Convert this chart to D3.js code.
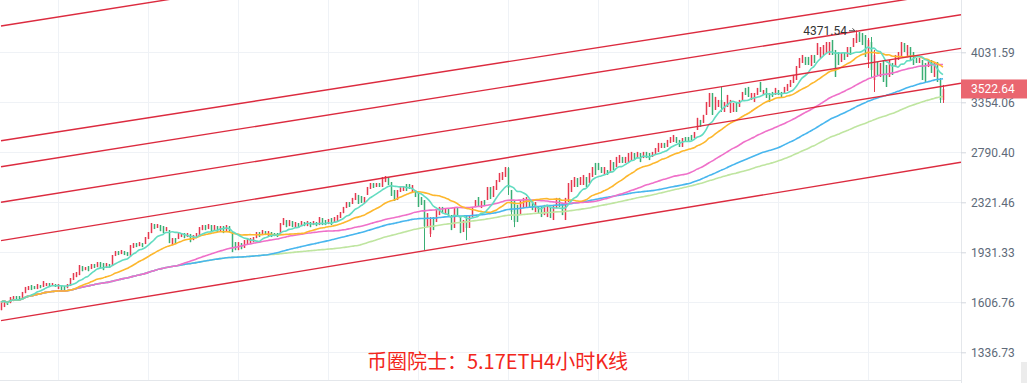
<!DOCTYPE html>
<html><head><meta charset="utf-8">
<script src="https://cdn.jsdelivr.net/npm/d3@7"></script>
<style>html,body{margin:0;padding:0;background:#fff;overflow:hidden}</style>
</head><body><svg id="c" width="1027" height="383"></svg>
<script>
// ETH/USDT 4h candles: [open, high, low, close]
const ohlc = [
[1561,1608,1561,1608],[1579,1620,1579,1620],[1614,1614,1591,1591],[1602,1638,1602,1638],[1614,1644,1614,1644],
[1644,1644,1626,1626],[1644,1644,1620,1620],[1632,1669,1632,1669],[1662,1700,1662,1700],[1681,1706,1681,1706],
[1712,1712,1681,1681],[1706,1706,1687,1687],[1687,1718,1687,1718],[1712,1712,1693,1693],[1700,1737,1700,1737],
[1706,1725,1706,1725],[1725,1725,1700,1700],[1706,1725,1706,1725],[1718,1718,1700,1700],[1687,1718,1687,1718],
[1712,1712,1669,1669],[1706,1706,1675,1675],[1693,1718,1693,1718],[1706,1757,1706,1757],[1744,1789,1744,1789],
[1763,1796,1763,1796],[1776,1843,1776,1843],[1836,1836,1802,1802],[1809,1829,1809,1829],[1836,1836,1802,1802],
[1816,1850,1816,1850],[1850,1850,1823,1823],[1829,1863,1829,1863],[1863,1863,1823,1823],[1856,1856,1809,1809],
[1823,1856,1823,1856],[1850,1850,1823,1823],[1836,1912,1836,1912],[1905,1940,1905,1940],[1940,1940,1912,1912],
[1919,1947,1919,1947],[1940,1940,1912,1912],[1933,1933,1905,1905],[1905,1983,1905,1983],[1962,1998,1962,1998],
[1998,1998,1969,1969],[1976,2005,1976,2005],[1998,1998,1969,1969],[1991,2043,1991,2043],[2028,2081,2028,2081],
[2073,2151,2073,2151],[2143,2143,2104,2104],[2112,2143,2112,2143],[2135,2135,2088,2088],[2127,2127,2073,2073],
[2088,2119,2088,2119],[2096,2096,1998,1998],[1983,2035,1983,2035],[2035,2035,1991,1991],[2028,2073,2028,2073],
[2043,2073,2043,2073],[2073,2073,2035,2035],[2043,2073,2043,2073],[2066,2066,2005,2005],[2020,2058,2020,2058],
[2035,2073,2035,2073],[2058,2119,2058,2119],[2096,2135,2096,2135],[2135,2135,2096,2096],[2104,2143,2104,2143],
[2135,2135,2081,2081],[2096,2135,2096,2135],[2127,2127,2081,2081],[2088,2127,2088,2127],[2127,2127,2073,2073],
[2081,2135,2081,2135],[2127,2127,2081,2081],[2081,2081,1933,1933],[2005,2005,1947,1947],[1947,2005,1947,2005],
[1998,1998,1954,1954],[1962,2020,1962,2020],[1991,2035,1991,2035],[1998,2035,1998,2035],[2005,2043,2005,2043],
[2035,2081,2035,2081],[2081,2081,2043,2043],[2058,2096,2058,2096],[2088,2088,2058,2058],[2050,2088,2050,2088],
[2081,2081,2043,2043],[2073,2073,2050,2050],[2073,2073,2043,2043],[2073,2151,2073,2151],[2135,2191,2135,2191],
[2175,2175,2119,2119],[2127,2175,2127,2175],[2167,2167,2119,2119],[2112,2159,2112,2159],[2151,2151,2112,2112],
[2127,2167,2127,2167],[2159,2159,2127,2127],[2127,2167,2127,2167],[2159,2159,2119,2119],[2135,2167,2135,2167],
[2159,2159,2127,2127],[2135,2199,2135,2199],[2191,2191,2135,2135],[2175,2175,2135,2135],[2143,2183,2143,2183],
[2191,2191,2135,2135],[2159,2199,2159,2199],[2159,2215,2159,2215],[2191,2240,2191,2240],[2231,2282,2231,2282],
[2273,2324,2273,2324],[2324,2324,2282,2282],[2307,2359,2307,2359],[2341,2402,2341,2402],[2385,2385,2307,2307],
[2376,2376,2316,2316],[2316,2367,2316,2367],[2385,2456,2385,2456],[2438,2492,2438,2492],[2492,2492,2447,2447],
[2456,2492,2456,2492],[2492,2492,2456,2456],[2456,2548,2456,2548],[2501,2557,2501,2557],[2548,2548,2474,2474],
[2501,2501,2376,2376],[2429,2429,2333,2333],[2341,2429,2341,2429],[2411,2456,2411,2456],[2420,2465,2420,2465],
[2483,2483,2420,2420],[2483,2483,2438,2438],[2411,2474,2411,2474],[2429,2429,2367,2367],[2402,2402,2282,2282],
[2367,2367,2299,2299],[2341,2341,1947,2127],[2119,2231,2119,2231],[2066,2199,2043,2183],[2199,2199,2096,2096],
[2159,2256,2159,2256],[2215,2282,2215,2282],[2282,2282,2231,2231],[2223,2273,2223,2273],[2265,2265,2207,2207],
[2215,2215,2096,2096],[2112,2273,2112,2273],[2273,2273,2199,2199],[2207,2207,2073,2073],[2081,2175,2081,2175],
[2215,2215,2020,2112],[2112,2215,2112,2215],[2199,2282,2199,2282],[2282,2341,2282,2341],[2367,2367,2282,2282],
[2273,2333,2273,2333],[2341,2341,2299,2299],[2341,2456,2341,2456],[2456,2456,2350,2350],[2367,2465,2367,2465],
[2429,2520,2429,2520],[2501,2586,2501,2586],[2520,2595,2520,2595],[2548,2643,2548,2643],[2633,2643,2385,2447],
[2429,2429,2175,2240],[2341,2341,2119,2159],[2299,2299,2159,2159],[2215,2341,2215,2341],[2273,2359,2273,2359],
[2282,2367,2282,2367],[2341,2341,2282,2282],[2341,2341,2256,2256],[2240,2324,2240,2324],[2282,2282,2231,2231],
[2282,2282,2199,2199],[2215,2299,2215,2299],[2199,2299,2199,2299],[2282,2282,2191,2191],[2175,2299,2175,2299],
[2273,2359,2273,2359],[2359,2359,2282,2282],[2316,2316,2215,2215],[2175,2359,2175,2359],[2324,2492,2324,2492],
[2411,2520,2411,2520],[2456,2548,2456,2548],[2538,2538,2456,2456],[2474,2548,2474,2548],[2474,2567,2474,2567],
[2548,2548,2456,2456],[2492,2586,2492,2586],[2548,2643,2548,2643],[2683,2683,2567,2567],[2683,2683,2614,2614],
[2643,2643,2586,2586],[2567,2643,2567,2643],[2614,2614,2567,2567],[2586,2712,2586,2712],[2692,2692,2614,2614],
[2643,2743,2643,2743],[2683,2763,2683,2763],[2743,2743,2683,2683],[2683,2743,2683,2743],[2692,2783,2692,2783],
[2712,2794,2712,2794],[2783,2783,2712,2712],[2732,2794,2732,2794],[2783,2783,2692,2692],[2732,2794,2732,2794],
[2794,2794,2732,2732],[2783,2783,2712,2712],[2743,2794,2743,2794],[2763,2835,2763,2835],[2794,2888,2794,2888],
[2835,2888,2835,2888],[2888,2888,2835,2835],[2846,2920,2846,2920],[2888,2952,2888,2952],[2899,2974,2899,2974],
[2952,2952,2888,2888],[2920,2920,2846,2846],[2846,2941,2846,2941],[2952,2952,2899,2899],[2952,2952,2899,2899],
[2974,2974,2920,2920],[2941,3007,2941,3007],[3029,3167,3029,3167],[3143,3143,3063,3063],[3109,3202,3109,3202],
[3202,3358,3202,3358],[3297,3471,3297,3471],[3471,3471,3202,3202],[3261,3421,3261,3421],[3297,3383,3297,3383],
[3383,3549,3237,3285],[3237,3358,3237,3358],[3297,3446,3297,3446],[3226,3383,3226,3383],[3237,3346,3237,3346],
[3358,3358,3237,3237],[3297,3383,3297,3383],[3383,3484,3383,3484],[3536,3536,3446,3446],[3549,3549,3421,3421],
[3383,3471,3383,3471],[3358,3471,3358,3471],[3446,3536,3446,3536],[3615,3615,3484,3484],[3446,3509,3446,3509],
[3536,3536,3408,3408],[3471,3471,3358,3358],[3484,3484,3421,3421],[3446,3536,3446,3536],[3509,3509,3446,3446],
[3484,3484,3421,3421],[3471,3549,3471,3549],[3497,3588,3497,3588],[3549,3641,3549,3641],[3602,3709,3602,3709],
[3641,3833,3641,3833],[3805,3948,3805,3948],[3876,3992,3876,3992],[3963,3963,3848,3848],[3963,3963,3848,3848],
[3833,3992,3833,3992],[3992,3992,3876,3876],[3992,4172,3992,4172],[3948,4111,3948,4111],[3992,4141,3992,4141],
[4021,4187,4021,4187],[3992,4187,3992,4187],[4218,4218,3992,3992],[4066,4066,3682,3682],[4036,4036,3848,3848],
[3890,4021,3890,4021],[4036,4036,3919,3919],[3963,4111,3963,4111],[4111,4111,3992,3992],[4111,4249,4111,4249],
[4172,4371.54,4172,4312],[4344,4344,4187,4187],[4328,4328,4141,4141],[4296,4296,3963,3963],[3919,4249,3805,4218],
[4187,4265,3682,3777],[3641,4066,3484,3992],[3890,3890,3709,3709],[3682,3876,3682,3876],[3919,3919,3615,3615],
[3848,3848,3549,3549],[3682,3919,3682,3919],[3876,3876,3709,3709],[3819,3992,3819,3992],[3919,4036,3919,4036],
[3963,4187,3963,4187],[4172,4172,4036,4036],[3963,4141,3963,4141],[4111,4111,3919,3919],[4036,4036,3848,3848],
[3948,3948,3876,3876],[3876,3948,3876,3948],[3919,3919,3641,3641],[3876,3876,3615,3615],[3819,3919,3819,3919],
[3919,3919,3736,3736],[3682,3890,3682,3890],[3890,3890,3615,3615],[3641,3668,3346,3383],[3383,3575,3346,3522.64]
];
const yTicks = [1336.73, 1606.76, 1931.33, 2321.46, 2790.40, 3354.06, 4031.59];
const maPeriods = [10, 25, 60, 90, 120];
const lastPrice = 3522.64;
// parallel channel lines: price at candle index channelFrom and channelTo
const channelFrom = 0, channelTo = 320;
const channelStart = [4441, 2912, 2646, 2322, 2016, 1502];
const channelEnd   = [7764, 5053, 4630, 4091, 3597, 2690];
const gridEvery = 30, gridOffset = 19;
const titleText = "币圈院士：5.17ETH4小时K线";

// ---- styles ----
const UP = "#e5394f", DOWN = "#3aae74";
const maColors = ["#63dcc1", "#fdb72d", "#ef70c9", "#48b6ee", "#bfe5a0"];
const plotR = 961, plotB = 380;

const svg = d3.select("#c");
const x = d3.scaleLinear().domain([0, ohlc.length - 1]).range([1, 943]);
const y = d3.scaleLog().domain([1336.73, 4031.59]).range([352.3, 52.3]);

svg.append("defs").append("clipPath").attr("id", "clip")
  .append("rect").attr("x", 0).attr("y", 0).attr("width", plotR).attr("height", plotB);

// grid
const grid = svg.append("g");
grid.selectAll("line.h").data(yTicks).join("line").attr("class", "h")
  .attr("x1", 0).attr("x2", plotR)
  .attr("y1", d => Math.round(y(d)) + 0.5).attr("y2", d => Math.round(y(d)) + 0.5)
  .attr("stroke", "#eff2f6").attr("stroke-width", 1);
const gridIdx = d3.range(gridOffset, ohlc.length, gridEvery);
grid.selectAll("line.v").data(gridIdx).join("line").attr("class", "v")
  .attr("x1", d => Math.round(x(d)) + 0.5).attr("x2", d => Math.round(x(d)) + 0.5)
  .attr("y1", 0).attr("y2", plotB)
  .attr("stroke", "#eff2f6").attr("stroke-width", 1);
// frame lines
svg.append("line").attr("x1", 0).attr("x2", plotR).attr("y1", plotB + 0.5).attr("y2", plotB + 0.5)
  .attr("stroke", "#e4e7eb");
svg.append("line").attr("x1", plotR + 0.5).attr("x2", plotR + 0.5).attr("y1", 0).attr("y2", 383)
  .attr("stroke", "#e4e7eb");

const plot = svg.append("g").attr("clip-path", "url(#clip)");

// candles
const cg = plot.append("g");
cg.selectAll("rect.wick").data(ohlc).join("rect").attr("class", "wick")
  .attr("x", (d, i) => Math.round(x(i)))
  .attr("width", 1)
  .attr("y", d => y(d[1]))
  .attr("height", d => Math.max(1, y(d[2]) - y(d[1])))
  .attr("fill", d => d[3] >= d[0] ? UP : DOWN);
cg.selectAll("rect.body").data(ohlc).join("rect").attr("class", "body")
  .attr("x", (d, i) => Math.round(x(i)) - 0.25)
  .attr("width", 1.5)
  .attr("y", d => y(Math.max(d[0], d[3])))
  .attr("height", d => Math.max(1, Math.abs(y(d[0]) - y(d[3]))))
  .attr("fill", d => d[3] >= d[0] ? UP : DOWN);

// moving averages
const closes = ohlc.map(d => d[3]);
function sma(n) {
  return closes.map((c, i) => d3.mean(closes.slice(Math.max(0, i - n + 1), i + 1)));
}
const maLine = d3.line().x((d, i) => x(i)).y(d => y(d)).curve(d3.curveMonotoneX);
maPeriods.slice().reverse().forEach((p, k) => {
  const idx = maPeriods.length - 1 - k;
  plot.append("path").datum(sma(p)).attr("d", maLine)
    .attr("fill", "none").attr("stroke", maColors[idx]).attr("stroke-width", 1.6);
});

// channel lines
const chLine = d3.line().x(d => x(d[0])).y(d => y(d[1]));
channelStart.forEach((p0, k) => {
  plot.append("path").datum([[channelFrom, p0], [channelTo, channelEnd[k]]])
    .attr("d", chLine).attr("fill", "none").attr("stroke", "#dc2b3f").attr("stroke-width", 1.4);
});

// peak label
const hiIdx = d3.maxIndex(ohlc, d => d[1]);
const hi = ohlc[hiIdx][1];
const hx = x(hiIdx), hy = y(hi);
svg.append("text").attr("x", hx - 9).attr("y", hy).attr("dy", "0.35em")
  .attr("text-anchor", "end").attr("fill", "#333")
  .style("font", "12px Roboto, 'Liberation Sans', sans-serif").text(d3.format(".2f")(hi));
svg.append("path").attr("d", `M${hx - 7},${hy + 0.5}H${hx - 1}M${hx - 3.5},${hy - 2}L${hx - 1},${hy + 0.5}`)
  .attr("stroke", "#444").attr("fill", "none").attr("stroke-width", 1);

// y axis
const ax = svg.append("g").attr("transform", `translate(${plotR},0)`)
  .call(d3.axisRight(y).tickValues(yTicks).tickFormat(d3.format(".2f")).tickSize(5).tickPadding(5).tickSizeOuter(0));
ax.select(".domain").remove();
ax.selectAll(".tick line").attr("stroke", "#d3d8de");
ax.selectAll(".tick text").attr("fill", "#5e6a79")
  .style("font", "12px Roboto, 'Liberation Sans', sans-serif");

// last price tag
const ly = y(lastPrice);
svg.append("rect").attr("x", plotR).attr("y", ly - 9.5).attr("width", 1027 - plotR).attr("height", 19)
  .attr("fill", "#ea6670");
svg.append("text").attr("x", plotR + 10).attr("y", ly).attr("dy", "0.35em").attr("fill", "#fff")
  .style("font", "12px Roboto, 'Liberation Sans', sans-serif").text(d3.format(".2f")(lastPrice));

// small scroll corner
svg.append("rect").attr("x", 1021).attr("y", 362).attr("width", 6).attr("height", 21).attr("fill", "#ececec");

// title
svg.append("text").attr("x", 497.5).attr("y", 362).attr("dy", "0.35em").attr("text-anchor", "middle")
  .attr("fill", "#f2261c").style("font", "20px 'Noto Sans CJK SC', sans-serif").text(titleText);
</script>
</body></html>
